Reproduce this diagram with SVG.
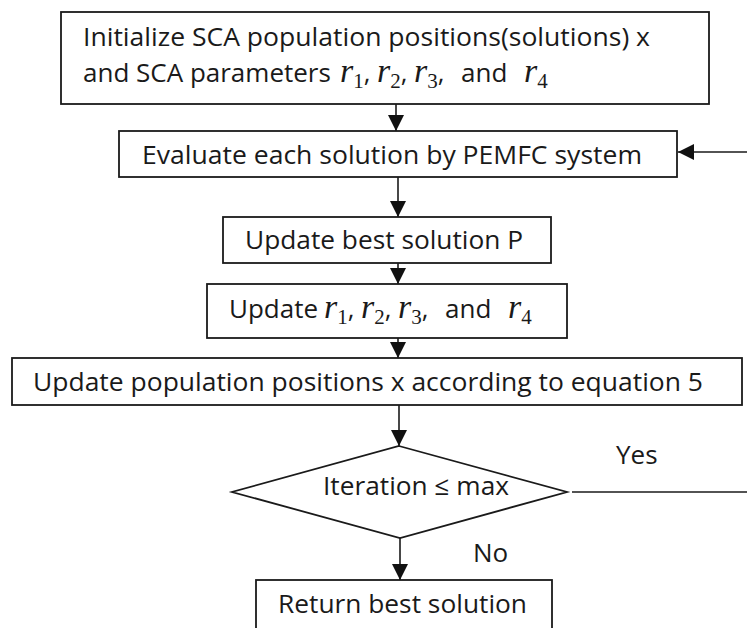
<svg xmlns="http://www.w3.org/2000/svg" width="747" height="628" viewBox="0 0 747 628">
<style>
  .box { fill: #ffffff; stroke: #1a1a1a; stroke-width: 1.8; }
  .t { font-family: "Open Sans", "Noto Sans", "DejaVu Sans", sans-serif; font-size: 26px; fill: #1a1a1a; }
  .m { font-family: "Liberation Serif", "DejaVu Serif", serif; font-style: italic; font-size: 34px; }
  .s { font-family: "Liberation Serif", "DejaVu Serif", serif; font-size: 21px; }
  .ln { fill: none; stroke: #1a1a1a; stroke-width: 1.6; }
</style>
<defs>
  <marker id="ah" viewBox="0 0 16 16" refX="16" refY="8" markerWidth="16" markerHeight="16" markerUnits="userSpaceOnUse" orient="auto">
    <path d="M0,0 L16,8 L0,16 Z" fill="#111"/>
  </marker>
</defs>
<rect width="747" height="628" fill="#ffffff"/>

<g id="connectors">
  <line class="ln" x1="396" y1="104" x2="396" y2="131" marker-end="url(#ah)"/>
  <line class="ln" x1="398" y1="177" x2="398" y2="217" marker-end="url(#ah)"/>
  <line class="ln" x1="398" y1="263" x2="398" y2="284" marker-end="url(#ah)"/>
  <line class="ln" x1="398" y1="338" x2="398" y2="358" marker-end="url(#ah)"/>
  <line class="ln" x1="399" y1="405" x2="399" y2="446" marker-end="url(#ah)"/>
  <line class="ln" x1="400" y1="538" x2="400" y2="580" marker-end="url(#ah)"/>
  <line class="ln" x1="572" y1="492" x2="747" y2="492"/>
  <line class="ln" x1="747" y1="152" x2="678" y2="152" marker-end="url(#ah)"/>
  <text class="t" x="616" y="464">Yes</text>
  <text class="t" x="473" y="562">No</text>
</g>

<g id="init">
  <rect class="box" x="61" y="12" width="648" height="92"/>
  <text class="t" x="83" y="46" textLength="567" lengthAdjust="spacingAndGlyphs">Initialize SCA population positions(solutions) x</text>
  <text class="t" x="83" y="82">and SCA parameters <tspan class="m" x="340">r</tspan><tspan class="s" dy="6">1</tspan><tspan dy="-6">, </tspan><tspan class="m" x="377">r</tspan><tspan class="s" dy="6">2</tspan><tspan dy="-6">, </tspan><tspan class="m" x="414">r</tspan><tspan class="s" dy="6">3</tspan><tspan dy="-6">,</tspan><tspan x="461">and</tspan><tspan class="m" x="524">r</tspan><tspan class="s" dy="6">4</tspan></text>
</g>

<g id="evaluate">
  <rect class="box" x="119" y="131" width="558" height="46"/>
  <text class="t" x="142" y="164" textLength="500" lengthAdjust="spacingAndGlyphs">Evaluate each solution by PEMFC system</text>
</g>

<g id="update-best">
  <rect class="box" x="223" y="217" width="328" height="46"/>
  <text class="t" x="245" y="249" textLength="278" lengthAdjust="spacingAndGlyphs">Update best solution P</text>
</g>

<g id="update-r">
  <rect class="box" x="207" y="284" width="360" height="54"/>
  <text class="t" x="229" y="318">Update <tspan class="m" x="324">r</tspan><tspan class="s" dy="6">1</tspan><tspan dy="-6">, </tspan><tspan class="m" x="361">r</tspan><tspan class="s" dy="6">2</tspan><tspan dy="-6">, </tspan><tspan class="m" x="398">r</tspan><tspan class="s" dy="6">3</tspan><tspan dy="-6">,</tspan><tspan x="445">and</tspan><tspan class="m" x="508">r</tspan><tspan class="s" dy="6">4</tspan></text>
</g>

<g id="update-pos">
  <rect class="box" x="12" y="358" width="730" height="47"/>
  <text class="t" x="33" y="391" textLength="670" lengthAdjust="spacingAndGlyphs">Update population positions x according to equation 5</text>
</g>

<g id="decision">
  <polygon class="box" points="399,446 567,492 400,538 232,492"/>
  <text class="t" x="323" y="495" textLength="186" lengthAdjust="spacingAndGlyphs">Iteration ≤ max</text>
</g>

<g id="return">
  <rect class="box" x="256" y="580" width="296" height="60"/>
  <text class="t" x="278" y="613" textLength="249" lengthAdjust="spacingAndGlyphs">Return best solution</text>
</g>
</svg>
